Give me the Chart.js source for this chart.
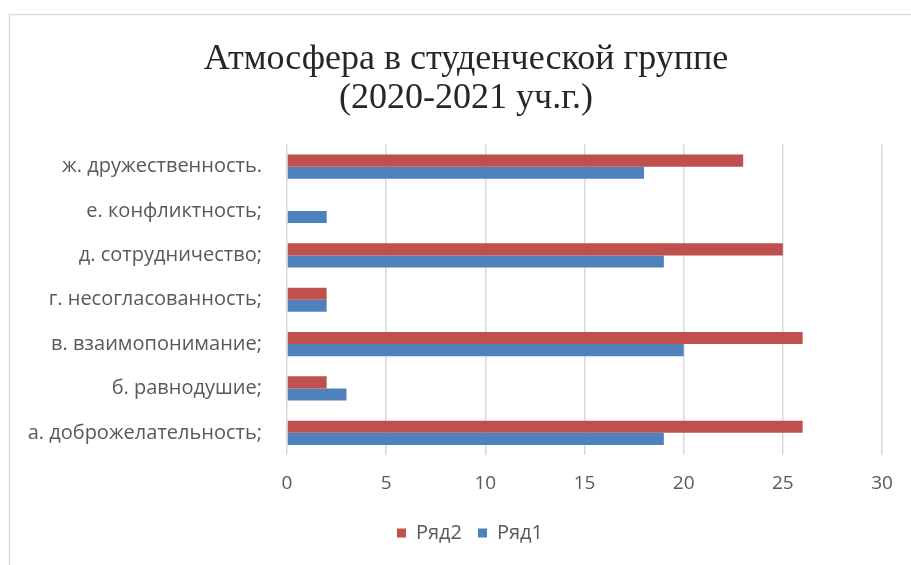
<!DOCTYPE html>
<html>
<head>
<meta charset="utf-8">
<script src="https://cdn.jsdelivr.net/npm/chart.js@4/dist/chart.umd.min.js"></script>
<style>
  html, body { margin: 0; padding: 0; background: #ffffff; }
  #wrap { position: relative; width: 911px; height: 565px; }
  canvas { display: block; }
</style>
</head>
<body>
<div id="wrap"><canvas id="chart" width="911" height="565"></canvas></div>
<script>
// Categories (top to bottom) and series values
const categories = [
  'ж. дружественность.',
  'е. конфликтность;',
  'д. сотрудничество;',
  'г. несогласованность;',
  'в. взаимопонимание;',
  'б. равнодушие;',
  'а. доброжелательность;'
];
const row2 = [23, 0, 25, 2, 26, 2, 26];
const row1 = [18, 2, 19, 2, 20, 3, 19];
const seriesNames = ['Ряд2', 'Ряд1'];
const titleLines = ['Атмосфера в студенческой группе', '(2020-2021 уч.г.)'];

const RED = '#C0504D';
const BLUE = '#4F81BD';
const TICK_COLOR = '#595959';
const GRID_COLOR = '#d9d9d9';
const SANS = '"Open Sans", Lato, "Liberation Sans", sans-serif';

// Thin frame around the chart object
const framePlugin = {
  id: 'frame',
  beforeDraw(chart) {
    const ctx = chart.ctx;
    ctx.save();
    ctx.strokeStyle = '#d9d9d9';
    ctx.lineWidth = 1.5;
    ctx.strokeRect(9.5, 14.5, 960, 600);
    ctx.restore();
  }
};

// Center the title and legend over the plot rather than the whole canvas
const blockShift = {
  id: 'blockShift',
  afterLayout(chart) {
    const t = chart.titleBlock;
    if (t) { t.left += 20; t.right += 20; }
    const lg = chart.legend;
    if (lg) { lg.left += 24; lg.right += 24; }
  }
};

new Chart(document.getElementById('chart'), {
  type: 'bar',
  data: {
    labels: categories,
    datasets: [
      { label: seriesNames[0], data: row2, backgroundColor: RED, borderWidth: 0 },
      { label: seriesNames[1], data: row1, backgroundColor: BLUE, borderWidth: 0 }
    ]
  },
  options: {
    indexAxis: 'y',
    responsive: false,
    animation: false,
    devicePixelRatio: 1,
    layout: { padding: { top: 40, right: 29, bottom: 12, left: 10 } },
    datasets: {
      bar: { categoryPercentage: 0.545, barPercentage: 1.0 }
    },
    scales: {
      x: {
        min: 0,
        max: 30,
        ticks: {
          stepSize: 5,
          color: TICK_COLOR,
          font: { family: SANS, size: 19 },
          padding: 17
        },
        grid: { color: GRID_COLOR, lineWidth: 1.5, drawTicks: false },
        border: { display: false },
        afterFit(scale) { scale.height = 52; }
      },
      y: {
        ticks: {
          color: TICK_COLOR,
          font: { family: SANS, size: 20 },
          padding: 25
        },
        grid: { display: false, drawTicks: false },
        border: { display: false },
        afterFit(scale) { scale.width = 277; }
      }
    },
    plugins: {
      title: {
        display: true,
        text: titleLines,
        color: '#262626',
        font: { family: '"Liberation Serif", "DejaVu Serif", serif', size: 36, weight: 'normal', lineHeight: 1.09 },
        padding: { top: 0, bottom: 26 }
      },
      legend: {
        position: 'bottom',
        labels: {
          boxWidth: 9,
          boxHeight: 9,
          color: TICK_COLOR,
          font: { family: SANS, size: 20 },
          padding: 16
        }
      },
      tooltip: { enabled: false }
    }
  },
  plugins: [framePlugin, blockShift]
});
</script>
</body>
</html>
